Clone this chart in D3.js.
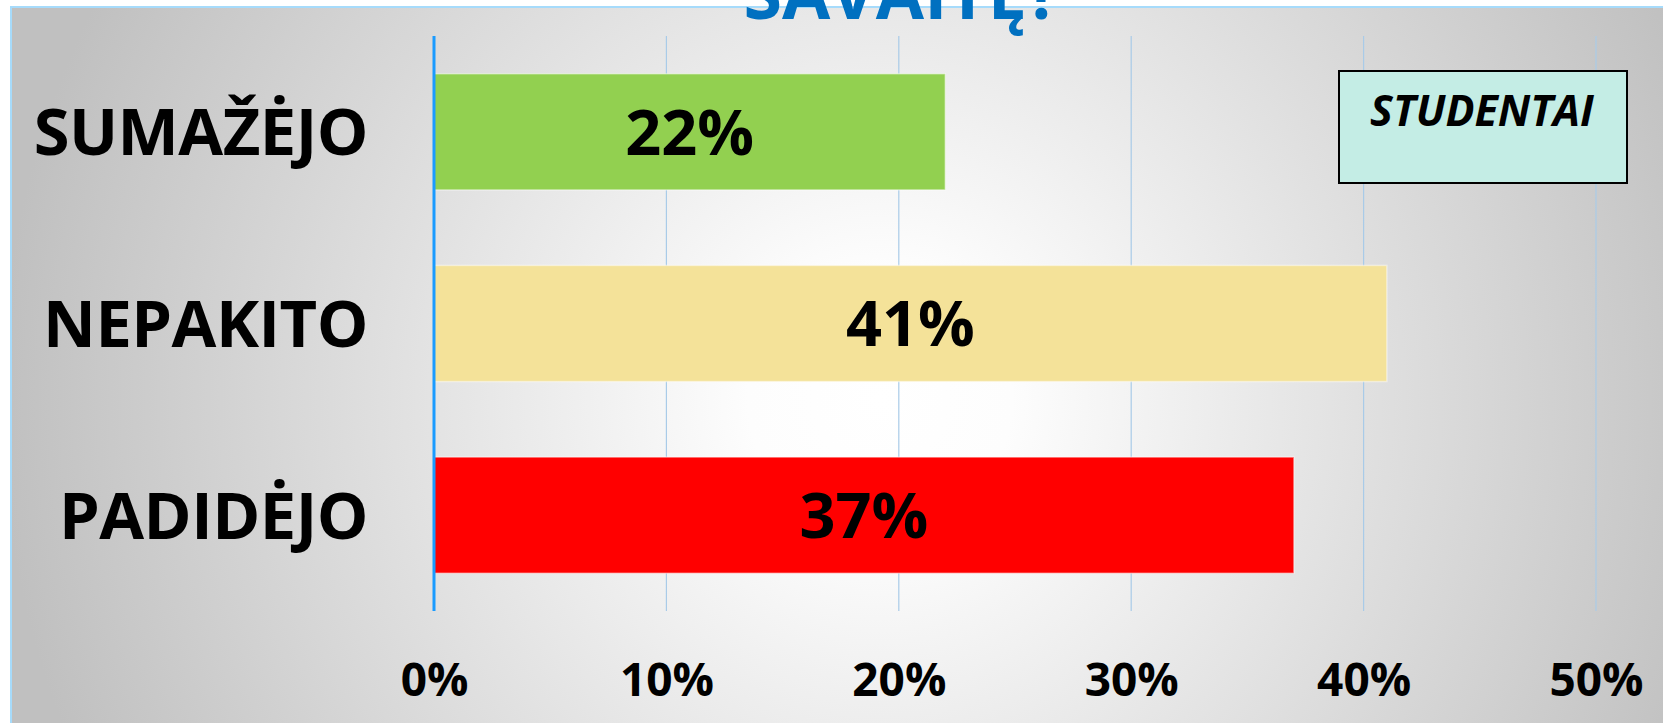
<!DOCTYPE html>
<html>
<head>
<meta charset="utf-8">
<script src="https://cdn.jsdelivr.net/npm/d3@7"></script>
<style>
  html, body { margin: 0; padding: 0; background: #fff; overflow: hidden; }
  svg { display: block; font-family: "Open Sans", "Noto Sans", sans-serif; }
</style>
</head>
<body>
<svg width="1663" height="723"></svg>
<script>
// data
var categories = ["SUMAŽĖJO", "NEPAKITO", "PADIDĖJO"];
var values = [0.22, 0.41, 0.37];
var barColors = ["#92d050", "#f4e299", "#ff0000"];
var xTicks = [0, 0.1, 0.2, 0.3, 0.4, 0.5];
var titleText = "SAVAITĘ?";
var legendText = "STUDENTAI";

var svg = d3.select("svg"),
    W = +svg.attr("width"),
    H = +svg.attr("height"),
    margin = { top: 36, left: 434, right: 66, bottom: 112 };

// background gradient
var defs = svg.append("defs");
var grad = defs.append("radialGradient")
    .attr("id", "bg")
    .attr("gradientUnits", "userSpaceOnUse")
    .attr("cx", 880).attr("cy", 400).attr("r", 880);
grad.append("stop").attr("offset", "0%").attr("stop-color", "#ffffff");
grad.append("stop").attr("offset", "15%").attr("stop-color", "#fdfdfd");
grad.append("stop").attr("offset", "100%").attr("stop-color", "#c0c0c0");

svg.append("rect")
    .attr("x", 11).attr("y", 7)
    .attr("width", W - 11).attr("height", H - 7)
    .attr("fill", "url(#bg)");

// outer border
svg.append("path")
    .attr("d", "M11," + H + "V7H" + W)
    .attr("fill", "none")
    .attr("stroke", "#a6dbfb")
    .attr("stroke-width", 2);

var x = d3.scaleLinear()
    .domain([0, 0.5])
    .range([margin.left, W - margin.right - 1]);

var y = d3.scaleBand()
    .domain(categories)
    .range([margin.top, H - margin.bottom])
    .paddingInner(0.394)
    .paddingOuter(0.197);

// gridlines
svg.append("g").attr("class", "grid")
    .selectAll("line")
    .data(xTicks.slice(1))
    .enter().append("line")
    .attr("x1", function (d) { return x(d); })
    .attr("x2", function (d) { return x(d); })
    .attr("y1", margin.top)
    .attr("y2", H - margin.bottom)
    .attr("stroke", "#a9cbe8")
    .attr("stroke-width", 1.2);

// bars
svg.append("g").attr("class", "bars")
    .selectAll("rect")
    .data(values)
    .enter().append("rect")
    .attr("x", x(0))
    .attr("y", function (d, i) { return y(categories[i]); })
    .attr("width", function (d) { return x(d) - x(0); })
    .attr("height", y.bandwidth())
    .attr("fill", function (d, i) { return barColors[i]; })
    .attr("stroke", "rgba(255,255,255,0.45)")
    .attr("stroke-width", 1.5);

// value labels
svg.append("g").attr("class", "values")
    .selectAll("text")
    .data(values)
    .enter().append("text")
    .attr("x", function (d) { return (x(0) + x(d)) / 2; })
    .attr("y", function (d, i) { return y(categories[i]) + y.bandwidth() / 2; })
    .attr("dy", "0.36em")
    .attr("text-anchor", "middle")
    .attr("font-size", 63)
    .attr("font-weight", "bold")
    .attr("fill", "#000")
    .text(function (d) { return Math.round(d * 100) + "%"; });

// y axis line
svg.append("line")
    .attr("x1", x(0)).attr("x2", x(0))
    .attr("y1", margin.top).attr("y2", H - margin.bottom)
    .attr("stroke", "#1a9bff")
    .attr("stroke-width", 3);

// category labels
svg.append("g").attr("class", "cats")
    .selectAll("text")
    .data(categories)
    .enter().append("text")
    .attr("x", 368)
    .attr("y", function (d) { return y(d) + y.bandwidth() / 2; })
    .attr("dy", "0.36em")
    .attr("text-anchor", "end")
    .attr("font-size", 65)
    .attr("font-weight", "bold")
    .attr("letter-spacing", -0.5)
    .attr("fill", "#000")
    .text(function (d) { return d; });

// x axis tick labels
var axisX = svg.append("g")
    .attr("transform", "translate(0," + (H - margin.bottom) + ")")
    .call(d3.axisBottom(x).tickValues(xTicks).tickFormat(d3.format(".0%")).tickSize(0).tickPadding(52));
axisX.select(".domain").remove();
axisX.selectAll("text")
    .attr("font-family", "'Open Sans', 'Noto Sans', sans-serif")
    .attr("font-size", 46)
    .attr("font-weight", "bold")
    .attr("fill", "#000");

// legend box
var legend = svg.append("g").attr("class", "legend");
legend.append("rect")
    .attr("x", 1339).attr("y", 71)
    .attr("width", 288).attr("height", 112)
    .attr("fill", "#c4ede5")
    .attr("stroke", "#000")
    .attr("stroke-width", 2);
legend.append("text")
    .attr("x", 1482).attr("y", 126)
    .attr("text-anchor", "middle")
    .attr("font-size", 43)
    .attr("font-weight", "bold")
    .attr("font-style", "italic")
    .attr("fill", "#000")
    .text(legendText);

// title (cut off at top, as in the original slide)
svg.append("text")
    .attr("x", 902).attr("y", 19)
    .attr("text-anchor", "middle")
    .attr("font-size", 70)
    .attr("font-weight", "bold")
    .attr("fill", "#0070c0")
    .text(titleText);
</script>
</body>
</html>
